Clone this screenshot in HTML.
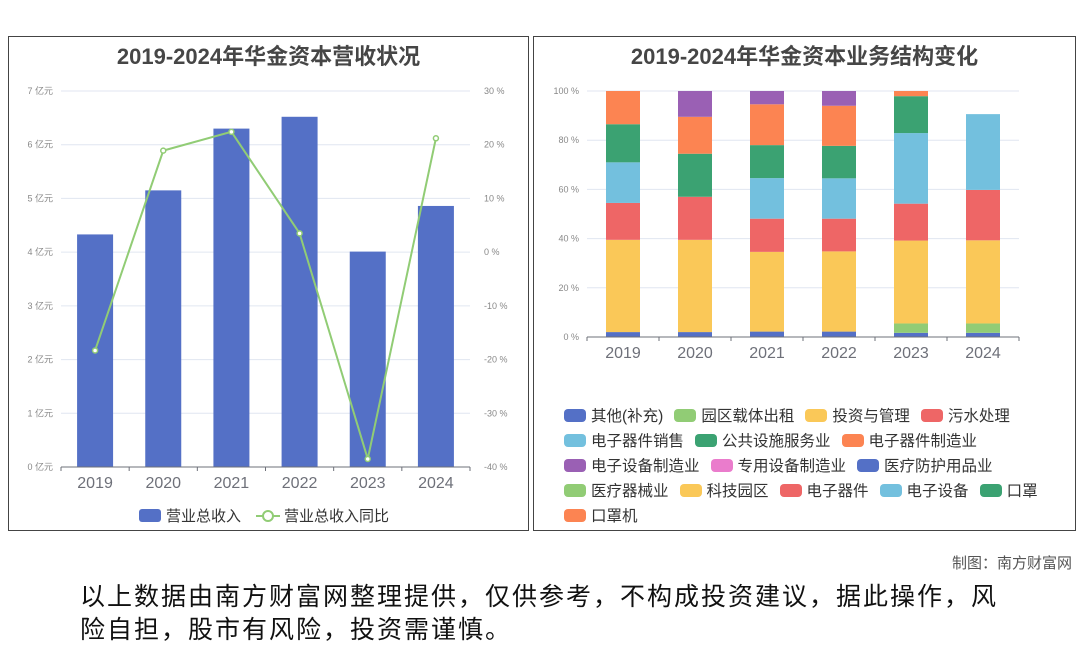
<!DOCTYPE html>
<html><head><meta charset="utf-8">
<style>
body{margin:0;width:1080px;height:646px;background:#fff;font-family:"Liberation Sans","Noto Sans CJK SC",sans-serif;overflow:hidden;position:relative}
.panel{position:absolute;border:1px solid #444;box-sizing:border-box;background:#fff}
.title{position:absolute;left:0;right:0;top:2px;text-align:center;font-weight:bold;font-size:22px;color:#464646}
#legend2{position:absolute;left:30px;top:368px;width:505px;display:flex;flex-wrap:wrap;row-gap:5px;column-gap:11px}
.li{display:flex;align-items:center;font-size:15.5px;color:#333;height:20px}
.sw{width:22px;height:13px;border-radius:4px;margin-right:5px}
</style></head><body>
<div class="panel" style="left:8px;top:36px;width:521px;height:495px">
 <div class="title">2019-2024年华金资本营收状况</div>
</div>
<div class="panel" style="left:533px;top:36px;width:543px;height:495px">
 <div class="title">2019-2024年华金资本业务结构变化</div>
 <div id="legend2"></div>
</div>
<svg id="svg" width="1080" height="646" style="position:absolute;left:0;top:0"></svg>
<div style="position:absolute;right:8px;top:552px;font-size:15px;color:#555">制图：南方财富网</div>
<div style="position:absolute;left:80px;top:581px;width:990px;font-size:25px;letter-spacing:2px;line-height:33px;color:#111">以上数据由南方财富网整理提供，仅供参考，不构成投资建议，据此操作，风<br>险自担，股市有风险，投资需谨慎。</div>
<script>
const years=['2019','2020','2021','2022','2023','2024'];
const revenue=[4.33,5.15,6.30,6.52,4.01,4.86];
const growth=[-18.3,18.9,22.4,3.5,-38.5,21.2];
const leftTicks=[0,1,2,3,4,5,6,7];
const rightTicks=[-40,-30,-20,-10,0,10,20,30];
const seriesNames=['其他(补充)','园区载体出租','投资与管理','污水处理','电子器件销售','公共设施服务业','电子器件制造业','电子设备制造业','专用设备制造业','医疗防护用品业','医疗器械业','科技园区','电子器件','电子设备','口罩','口罩机'];
const s0=[2,2,2.2,2.2,1.7,1.7];
const s1=[0,0,0,0,3.8,3.8];
const s2=[37.5,37.5,32.4,32.6,33.7,33.8];
const s3=[15,17.5,13.5,13.3,15,20.5];
const s4=[16.5,0,16.5,16.4,28.7,30.8];
const s5=[15.5,17.5,13.4,13.2,15,0];
const s6=[13.5,15,16.6,16.3,2.1,0];
const s7=[0,10.5,5.4,6,0,0];
const stackValues=[s0,s1,s2,s3,s4,s5,s6,s7];
const pctTicks=[0,20,40,60,80,100];
const colors=['#5470c6','#91cc75','#fac858','#ee6666','#73c0de','#3ba272','#fc8452','#9a60b4','#ea7ccc'];

const svg=document.getElementById('svg');const NS='http://www.w3.org/2000/svg';
function mk(t,a,txt){const e=document.createElementNS(NS,t);for(const k in a)e.setAttribute(k,a[k]);if(txt!==undefined)e.textContent=txt;svg.appendChild(e);return e;}
const L={x0:61,x1:470,y0:467,y1:91};
const yL=v=>L.y0-(v/7)*(L.y0-L.y1);
const yR=v=>L.y0-((v+40)/70)*(L.y0-L.y1);
const bandL=(L.x1-L.x0)/years.length;
const xL=i=>L.x0+bandL*(i+0.5);
leftTicks.forEach(t=>{
 const g=mk('line',{x1:L.x0,x2:L.x1,y1:yL(t),y2:yL(t),stroke:'#e0e6f1'});
 
 const tx=mk('text',{x:53,y:yL(t)+3,'text-anchor':'end','font-size':9,fill:'#888'},t+' 亿元');
 
});
rightTicks.forEach(t=>{
 const tx=mk('text',{x:484,y:yR(t)+3,'font-size':9,fill:'#888'},t+' %');
 
});
revenue.forEach((v,i)=>{
 const r=mk('rect',{x:xL(i)-18,y:yL(v),width:36,height:yL(0)-yL(v),fill:'#5470c6'});
 
});
mk('line',{x1:L.x0,x2:L.x1,y1:L.y0,y2:L.y0,stroke:'#6e7079'});
years.forEach((y,i)=>{
 mk('line',{x1:L.x0+bandL*i,x2:L.x0+bandL*i,y1:L.y0,y2:L.y0+4,stroke:'#6e7079'});
 const tx=mk('text',{x:xL(i),y:488,'text-anchor':'middle','font-size':16,fill:'#6e7079'},y);
 
});
mk('line',{x1:L.x1,x2:L.x1,y1:L.y0,y2:L.y0+4,stroke:'#6e7079'});
const pl=mk('polyline',{points:growth.map((v,i)=>xL(i)+','+yR(v)).join(' '),fill:'none',stroke:'#91cc75','stroke-width':2});

growth.forEach((v,i)=>{const c=mk('circle',{cx:xL(i),cy:yR(v),r:2.5,fill:'#fff',stroke:'#91cc75','stroke-width':1.5});
 });
const lg1=mk('rect',{x:139,y:509,width:22,height:13,rx:3,fill:'#5470c6'});

const lt1=mk('text',{x:166,y:521,'font-size':15,fill:'#333'},'营业总收入');

mk('line',{x1:256,x2:280,y1:516,y2:516,stroke:'#91cc75','stroke-width':2});
mk('circle',{cx:268,cy:516,r:5,fill:'#fff',stroke:'#91cc75','stroke-width':2});
const lt2=mk('text',{x:284,y:521,'font-size':15,fill:'#333'},'营业总收入同比');

const R={x0:587,x1:1019,y0:337,y1:91};
const yP=v=>R.y0-(v/100)*(R.y0-R.y1);
const bandR=(R.x1-R.x0)/years.length;
const xR=i=>R.x0+bandR*(i+0.5);
pctTicks.forEach(t=>{
 const g=mk('line',{x1:R.x0,x2:R.x1,y1:yP(t),y2:yP(t),stroke:'#e0e6f1'});
 
 const tx=mk('text',{x:579,y:yP(t)+3,'text-anchor':'end','font-size':9,fill:'#888'},t+' %');
 
});
years.forEach((y,i)=>{
 let acc=0;
 stackValues.forEach((s,k)=>{
  const v=s[i];if(!v)return;
  const r=mk('rect',{x:xR(i)-17,y:yP(acc+v),width:34,height:yP(acc)-yP(acc+v),fill:colors[k%colors.length]});
  
  acc+=v;
 });
});
mk('line',{x1:R.x0,x2:R.x1,y1:R.y0,y2:R.y0,stroke:'#6e7079'});
years.forEach((y,i)=>{
 mk('line',{x1:R.x0+bandR*i,x2:R.x0+bandR*i,y1:R.y0,y2:R.y0+4,stroke:'#6e7079'});
 const tx=mk('text',{x:xR(i),y:358,'text-anchor':'middle','font-size':16,fill:'#6e7079'},y);
 
});
mk('line',{x1:R.x1,x2:R.x1,y1:R.y0,y2:R.y0+4,stroke:'#6e7079'});
const lg=document.getElementById('legend2');
seriesNames.forEach((n,k)=>{
 const d=document.createElement('div');d.className='li';
 
 
 d.innerHTML='<span class="sw" style="background:'+colors[k%colors.length]+'"></span>'+n;
 lg.appendChild(d);
});
</script>
</body></html>
